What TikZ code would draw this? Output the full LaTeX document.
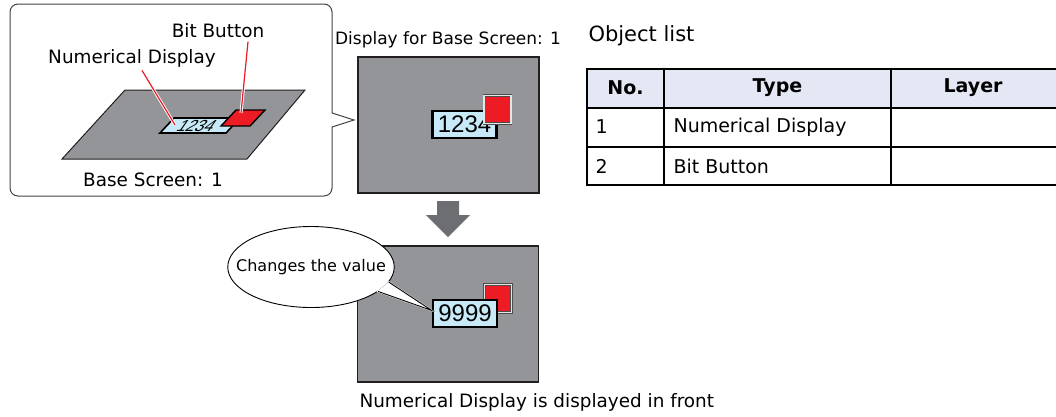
\documentclass[tikz,border=0pt]{standalone}
\usepackage{fontspec}
\setmainfont{DejaVu Sans}
\newfontfamily\lcdfont{Liberation Sans}
\usetikzlibrary{shapes.geometric, positioning}

\definecolor{screengray}{HTML}{939598}
\definecolor{framedark}{HTML}{231F20}
\definecolor{lcdblue}{HTML}{C8EAF8}
\definecolor{buttonred}{HTML}{ED1C24}
\definecolor{arrowgray}{HTML}{6D6E71}
\definecolor{headblue}{HTML}{E4E8F4}

\tikzset{
	screen/.style={draw=framedark, line width=1.2pt, fill=screengray,
		minimum width=181pt, minimum height=136pt, inner sep=0pt},
	lcd/.style={draw=black, line width=2.4pt, fill=lcdblue, inner sep=0pt,
		minimum width=64pt, minimum height=27pt, font=\lcdfont\fontsize{24}{24}\selectfont},
	bitbutton/.style={draw=black!70, double=gray!20, double distance=1.3pt, fill=buttonred,
		minimum width=27pt, minimum height=28pt, inner sep=0pt},
	leader/.style={buttonred, line width=1.2pt, preaction={draw=white, line width=3pt}},
	cell/.style={anchor=west, font=\fontsize{19}{20}\selectfont},
	headcell/.style={font=\bfseries\fontsize{19}{20}\selectfont},
}

\begin{document}
\begin{tikzpicture}[x=1pt, y=-1pt, font=\fontsize{18.4}{20}\selectfont]
	\useasboundingbox (0,0) rectangle (1056,416);

	% base screen seen in perspective, inside a speech box
	\draw[framedark!85, line width=1pt] (170,4) [rounded corners=8] -- (332,4) -- (332,60)
		[sharp corners] -- (332,113) -- (354,120) -- (332,127) -- (332,150)
		[rounded corners=8] -- (332,196) -- (10,196) -- (10,4) -- cycle;
	\draw[fill=screengray, draw=framedark, line width=1pt]
		(125,90) -- (305,90) -- (247,159) -- (62,159) -- cycle;
	\draw[fill=lcdblue, draw=black, line width=1.6pt]
		(160,133) -- (174,118) -- (240,118) -- (226,133) -- cycle;
	\begin{scope}[shift={(197,126)}]
		\node[xslant=0.7, transform shape, font=\lcdfont\fontsize{16}{16}\selectfont] (numplane) at (0,0) {1234};
	\end{scope}
	\draw[fill=buttonred, draw=black, line width=1.4pt]
		(221,126) -- (236,110) -- (265,110) -- (250,126) -- cycle;
	\coordinate (ndpin) at (175,125);
	\coordinate (bbpin) at (241,113);
	\node (ndlabel) at (132,58) {Numerical Display};
	\node (bblabel) at (218,31) {Bit Button};
	\node (baselabel) at (153,180) {Base Screen: 1};
	\draw[leader] ([xshift=10pt]ndlabel.south) -- (ndpin);
	\draw[leader] ([xshift=30pt]bblabel.south) -- (bbpin);

	% screen before the change
	\node[screen] (scr1) at (448.5,125) {};
	\node[font=\fontsize{17}{18}\selectfont] (scr1title) at (448,40) {Display for Base Screen: 1};
	\node[lcd] (lcd1) at (464.5,124.5) {1234};
	\node[bitbutton] (btn1) at (497.5,109.5) {};

	% arrow down
	\fill[arrowgray] (437,201) -- (459,201) -- (459,215) -- (470,215) -- (448,237)
		-- (426,215) -- (437,215) -- cycle;

	% screen after the change
	\node[screen] (scr2) at (448,314) {};
	\node[bitbutton] (btn2) at (498,298.5) {};
	\node[lcd] (lcd2) at (465,313.5) {9999};
	\node[ellipse, draw, fill=white, line width=0.9pt, minimum width=166pt, minimum height=81pt,
		inner xsep=-16pt, inner ysep=0pt, font=\fontsize{16}{16}\selectfont] (bubble) at (311,267) {Changes the value};
	\coordinate (tip) at ([yshift=3pt]lcd2.west);
	\filldraw[white, line width=1.6pt] (bubble.-20) -- (tip) -- (bubble.-11) -- (bubble.-15) -- cycle;
	\draw[line width=0.9pt] (bubble.-20) -- (tip) -- (bubble.-11);
	\node[anchor=west] (note) at (356,402) {Numerical Display is displayed in front};

	% object list
	\node[anchor=west, font=\fontsize{21}{22}\selectfont] (listtitle) at (585,36) {Object list};
	\fill[headblue] (587,69) rectangle (1056,108);
	\draw[line width=1.5pt] (1056,69) -- (587,69) -- (587,185) -- (1056,185);
	\draw[line width=1.5pt] (587,108) -- (1056,108);
	\draw[line width=1.5pt] (587,147) -- (1056,147);
	\draw[line width=1.5pt] (664,69) -- (664,185);
	\draw[line width=1.5pt] (891,69) -- (891,185);
	\node[headcell] (hno) at (625.5,88) {No.};
	\node[headcell] (htype) at (777.5,88) {Type};
	\node[headcell] (hlayer) at (973,88) {Layer};
	\node[cell] (no1) at (592,127) {1};
	\node[cell] (type1) at (670,127) {Numerical Display};
	\node[cell] (no2) at (592,166) {2};
	\node[cell] (type2) at (670,166) {Bit Button};
\end{tikzpicture}
\end{document}
